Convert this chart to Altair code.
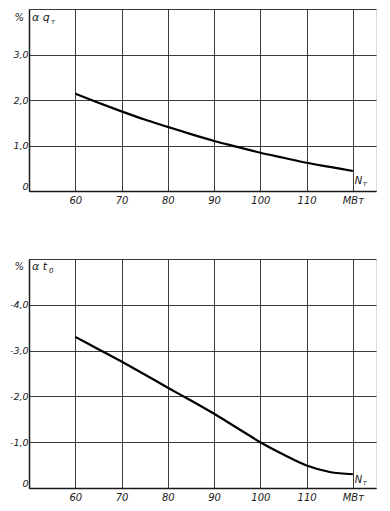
import altair as alt
import pandas as pd

# Data
power = [60, 65, 70, 75, 80, 85, 90, 95, 100, 105, 110, 115, 120]
alpha_q = [2.14, 1.94, 1.75, 1.57, 1.41, 1.25, 1.10, 0.97, 0.84, 0.73, 0.62, 0.53, 0.44]
alpha_t = [-3.30, -3.03, -2.76, -2.48, -2.19, -1.91, -1.62, -1.31, -1.00, -0.73, -0.49, -0.35, -0.30]

x_grid = list(range(50, 130, 5))
y_grid_top = [i * 0.5 for i in range(0, 9)]
y_grid_bot = [-i * 0.5 for i in range(0, 11)]

FONT = "DejaVu Sans"
INK = "#1a1a1a"

x_label_expr = ("datum.value == 120 ? 'МВт' : "
                "((datum.value >= 60 && datum.value <= 110 && datum.value % 10 == 0) ? datum.value + '' : '')")


def y_label_expr(limit):
    return ("(datum.value % 1 == 0 && abs(datum.value) < " + str(limit) + ") ? "
            "(datum.value == 0 ? '0' : (datum.value < 0 ? '-' : '') + abs(datum.value) + ',0') : ''")


def panel(values, domain, ygrid, limit, height, sym, sub, pct_y, n_y, sub_dx):
    df = pd.DataFrame({"N": power, "v": values})
    xs = alt.Scale(domain=[50, 125], nice=False, zero=False)
    ys = alt.Scale(domain=domain, nice=False, zero=False)
    x_axis = alt.Axis(values=x_grid, labelExpr=x_label_expr, title=None, ticks=False,
                      labelPadding=4, labelFontStyle="italic", labelFont=FONT,
                      labelFontSize=10, labelColor=INK, domainColor=INK, domainWidth=1.5,
                      gridColor=INK, gridWidth=1, gridOpacity=0.85, labelFlush=False)
    y_axis = alt.Axis(values=ygrid, labelExpr=y_label_expr(limit), title=None, ticks=False,
                      labelPadding=1, labelFontStyle="italic", labelFont=FONT,
                      labelFontSize=9.5, labelColor=INK, domainColor=INK, domainWidth=1.5,
                      gridColor=INK, gridWidth=1, gridOpacity=0.85, labelFlush=True)
    line = alt.Chart(df).mark_line(color="black", strokeWidth=2.2, interpolate="monotone").encode(
        x=alt.X("N:Q", scale=xs, axis=x_axis),
        y=alt.Y("v:Q", scale=ys, axis=y_axis),
    )

    def txt(s, xv, yv, size=11, dx=0, dy=0, align="left", weight="normal"):
        return alt.Chart().mark_text(text=s, align=align, baseline="middle", dx=dx, dy=dy,
                                     font=FONT, fontSize=size, fontStyle="italic",
                                     fontWeight=weight, color=INK).encode(
            x=alt.datum(xv), y=alt.datum(yv))

    pct = txt("%", 50, pct_y, size=10, dx=-5, align="right")
    s1 = txt(sym, 50, pct_y, size=11, dx=3)
    s2 = txt(sub, 50, pct_y, size=7, dx=sub_dx, dy=4)
    n1 = txt("N", 120, n_y, size=10, dx=2)
    n2 = txt("т", 120, n_y, size=7, dx=10, dy=3)
    return alt.layer(line, pct, s1, s2, n1, n2).properties(width=347, height=height)


top = panel(alpha_q, [0, 4], y_grid_top, 4, 182, "α q", "т", 3.8, 0.21, 22)
bot = panel(alpha_t, [0, -5], y_grid_bot, 5, 229, "α t", "0", -4.82, -0.17, 20)

chart = alt.vconcat(top, bot, spacing=52).properties(
    padding={"left": 0, "top": 0, "right": 5, "bottom": 5}
).configure_view(stroke="black", strokeWidth=1.5).configure(background="white")

chart.save("out.html", embed_options={"renderer": "svg", "actions": False})
